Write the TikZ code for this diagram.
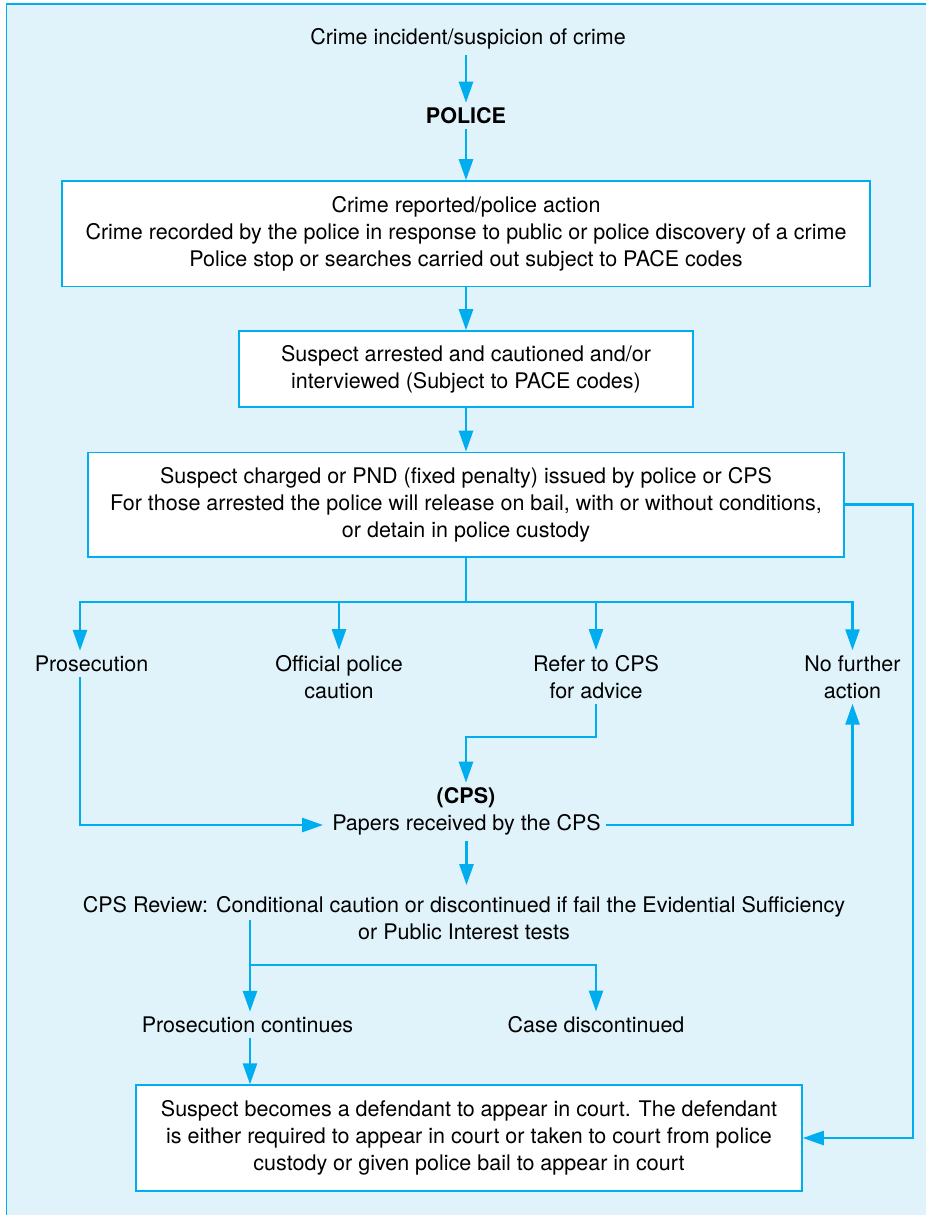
\documentclass[tikz,border=0pt]{standalone}
\usepackage{fontspec}
\setmainfont{TeX Gyre Heros}
\usetikzlibrary{arrows.meta}
\definecolor{flowcyan}{RGB}{0,174,239}
\definecolor{panelblue}{RGB}{224,243,251}
\begin{document}
\begin{tikzpicture}[x=1pt,y=-1pt,
  every node/.style={font=\fontsize{21.5pt}{27pt}\selectfont, text=black, align=center, inner sep=5pt},
  heading/.style={font=\fontsize{21.5pt}{27pt}\selectfont\bfseries},
  stepbox/.style={draw=flowcyan, line width=1.6pt, fill=white, inner sep=0pt},
  conn/.style={draw=flowcyan, line width=2.6pt},
  arr/.style={conn, -{Triangle[length=21pt,width=14pt]}},
]
\useasboundingbox (0,0) rectangle (926,1215);

% panel background with its top and left rule
\fill[panelblue] (6.5,4) rectangle (926,1215);
\draw[flowcyan, line width=1.6pt] (6.5,1215) -- (6.5,4) -- (926,4);

% police stage
\node (start) at (468,39) {Crime incident/suspicion of crime};
\node[heading] (police) at (466,116) {POLICE};
\node[stepbox, minimum width=808pt, minimum height=105.5pt] (b1) at (466,233.75)
  {Crime reported/police action\\
   Crime recorded by the police in response to public or police discovery of a crime\\
   Police stop or searches carried out subject to PACE codes};
\node[stepbox, minimum width=454pt, minimum height=76pt] (b2) at (466,369)
  {Suspect arrested and cautioned and/or\\
   interviewed (Subject to PACE codes)};
\node[stepbox, minimum width=756pt, minimum height=104.5pt] (b3) at (466,504.75)
  {Suspect charged or PND (fixed penalty) issued by police or CPS\\
   For those arrested the police will release on bail, with or without conditions,\\
   or detain in police custody};

% outcomes
\coordinate (forkA) at (466,602);
\coordinate (barL) at (80,602);
\node (pros) at (91.5,664) {Prosecution};
\node (opc) at (339,677) {Official police\\caution};
\node (refer) at (596,677) {Refer to CPS\\for advice};
\node (nfa) at (852.5,677) {No further\\action};

% CPS stage
\node[heading] (cps) at (466,798) {(CPS)};
\node (papers) at (466.5,825) {Papers received by the CPS};
\node (review) at (464,918)
  {CPS Review: Conditional caution or discontinued if fail the Evidential Sufficiency\\
   or Public Interest tests};
\coordinate (rv) at (250,920);
\coordinate (forkB) at (250,965);
\node (pc) at (247.5,1025) {Prosecution continues};
\node (cd) at (596,1025) {Case discontinued};
\node[stepbox, minimum width=666pt, minimum height=105.7pt] (b4) at (469,1138)
  {Suspect becomes a defendant to appear in court. The defendant\\
   is either required to appear in court or taken to court from police\\
   custody or given police bail to appear in court};

% connectors
\draw[arr] (start.south -| police) -- (police.north);
\draw[arr] (police.south) -- (b1.north);
\draw[arr] (b1.south) -- (b2.north);
\draw[arr] (b2.south) -- (b3.north);
\draw[conn] (b3.south) -- (forkA);
\draw[arr] (forkA) -| (barL |- pros.north);
\draw[arr] (forkA) -| (nfa.north);
\draw[arr] (opc.north |- forkA) -- (opc.north);
\draw[arr] (refer.north |- forkA) -- (refer.north);
\draw[arr, shorten >=4pt] (barL |- pros.south) |- (papers.west);
\draw[arr] (refer.south) -- ++(0,33) -| (cps.north);
\draw[arr] (papers.east) -| (nfa.south);
\draw[arr, shorten >=6pt] (papers.south) -- (papers.south |- review.north);
\draw[arr] (rv) -- (rv |- pc.north);
\draw[arr] (forkB) -| (cd.north);
\draw[arr] (rv |- pc.south) -- (rv |- b4.north);
\draw[arr] (b3.east) -- ++(68,0) |- (b4.east);
\end{tikzpicture}
\end{document}
